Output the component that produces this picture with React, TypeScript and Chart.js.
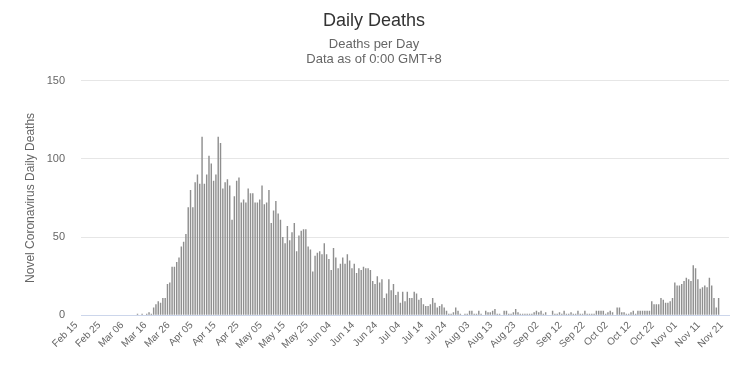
import React, { useEffect, useRef } from "react";
import { Chart, registerables } from "chart.js";

Chart.register(...registerables);

const START_DATE = "2020-02-15";
const DAY_COUNT = 281;
const LABEL_STEP = 10;
const MONTHS = ["Jan", "Feb", "Mar", "Apr", "May", "Jun", "Jul", "Aug", "Sep", "Oct", "Nov", "Dec"];

const febDeaths = [0, 0, 0, 0, 0, 0, 0, 0, 0, 0, 0, 0, 0, 0, 0];
const marDeaths = [0, 0, 0, 0, 0, 0, 0, 0, 0, 1, 0, 1, 0, 1, 2, 1, 5, 7, 9, 8, 11, 11, 20, 21, 31, 31, 34, 37, 44, 47, 52];
const aprDeaths = [69, 80, 69, 85, 90, 84, 114, 84, 90, 102, 97, 86, 90, 114, 110, 81, 85, 87, 83, 61, 76, 86, 88, 72, 74, 72, 81, 78, 78, 72];
const mayDeaths = [72, 74, 83, 71, 72, 80, 59, 67, 73, 65, 61, 50, 46, 57, 48, 53, 59, 41, 51, 54, 55, 55, 44, 42, 28, 38, 40, 41, 39, 46, 39];
const junDeaths = [36, 29, 43, 37, 30, 33, 37, 33, 39, 35, 30, 33, 27, 30, 29, 31, 30, 30, 29, 22, 20, 25, 21, 23, 11, 14, 23, 16, 20, 13];
const julDeaths = [15, 8, 15, 9, 15, 11, 11, 15, 14, 10, 11, 7, 6, 6, 7, 11, 8, 5, 6, 7, 5, 3, 1, 1, 2, 5, 3, 1, 0, 1, 1];
const augDeaths = [3, 3, 1, 1, 3, 1, 0, 3, 2, 2, 3, 4, 1, 1, 0, 3, 3, 1, 1, 2, 4, 2, 1, 1, 1, 1, 1, 1, 2, 3, 2];
const sepDeaths = [3, 1, 2, 0, 0, 3, 1, 1, 2, 1, 3, 1, 1, 2, 1, 1, 3, 1, 1, 3, 1, 1, 1, 1, 3, 3, 3, 3, 1, 2];
const octDeaths = [3, 2, 0, 5, 5, 2, 2, 1, 1, 2, 3, 1, 3, 3, 3, 3, 3, 3, 9, 7, 7, 7, 11, 10, 8, 8, 9, 11, 21, 19, 19];
const novDeaths = [20, 22, 24, 23, 22, 32, 30, 23, 17, 18, 19, 18, 24, 19, 11, 5, 11, 0, 0, 0, 0];

const dailyDeaths = [
  ...febDeaths, ...marDeaths, ...aprDeaths, ...mayDeaths, ...junDeaths,
  ...julDeaths, ...augDeaths, ...sepDeaths, ...octDeaths, ...novDeaths,
];

const yTicks = [0, 50, 100, 150];

function buildCategories(): string[] {
  const out: string[] = [];
  const start = new Date(START_DATE + "T00:00:00Z");
  for (let i = 0; i < DAY_COUNT; i++) {
    const d = new Date(start.getTime() + i * 86400000);
    const day = String(d.getUTCDate()).padStart(2, "0");
    out.push(MONTHS[d.getUTCMonth()] + " " + day);
  }
  return out;
}

const categories = buildCategories();

const FONT = "'Liberation Sans', Arial, Helvetica, sans-serif";

export default function App() {
  const ref = useRef<HTMLCanvasElement | null>(null);

  useEffect(() => {
    document.body.style.margin = "0";
    const canvas = ref.current;
    if (!canvas) return;
    const chart = new Chart(canvas, {
      type: "bar",
      data: {
        labels: categories,
        datasets: [
          {
            label: "Daily Deaths",
            data: dailyDeaths,
            backgroundColor: "#8f8f8f",
            borderWidth: 0,
            barPercentage: 0.62,
            categoryPercentage: 1,
          },
        ],
      },
      options: {
        animation: false,
        responsive: false,
        devicePixelRatio: 1,
        layout: { padding: { left: 19, right: 14, top: 0, bottom: 20 } },
        plugins: {
          legend: { display: false },
          tooltip: { enabled: false },
          title: {
            display: true,
            text: "Daily Deaths",
            color: "#333333",
            font: { family: FONT, size: 18, weight: "normal" },
            padding: { top: 10, bottom: 4 },
          },
          subtitle: {
            display: true,
            text: ["Deaths per Day", "Data as of 0:00 GMT+8"],
            color: "#666666",
            font: { family: FONT, size: 13, weight: "normal", lineHeight: 1.15 },
            padding: { top: 1, bottom: 14 },
          },
        },
        scales: {
          x: {
            type: "category",
            offset: true,
            grid: { display: false, drawTicks: false },
            border: { display: true, color: "#ccd6eb", width: 1 },
            afterFit: (scale: any) => {
              scale.paddingLeft = 0;
              scale.paddingRight = 0;
            },
            ticks: {
              autoSkip: false,
              minRotation: 45,
              maxRotation: 45,
              color: "#666666",
              font: { family: FONT, size: 10 },
              padding: 4,
              labelOffset: -6,
              callback: function (this: any, value: any, index: number) {
                return index % LABEL_STEP === 0 ? categories[index] : null;
              },
            },
          },
          y: {
            min: 0,
            max: 150,
            afterBuildTicks: (axis: any) => {
              axis.ticks = yTicks.map((v) => ({ value: v }));
            },
            afterFit: (scale: any) => {
              scale.width = 62;
            },
            grid: {
              color: (ctx: any) => (ctx.tick && ctx.tick.value === 0 ? "rgba(0,0,0,0)" : "#e6e6e6"),
              drawTicks: false,
              lineWidth: 1,
            },
            border: { display: false },
            ticks: {
              color: "#666666",
              font: { family: FONT, size: 11 },
              padding: 16,
            },
            title: {
              display: true,
              text: "Novel Coronavirus Daily Deaths",
              color: "#666666",
              font: { family: FONT, size: 12 },
              padding: { top: 4, bottom: 9 },
            },
          },
        },
      },
    });
    return () => chart.destroy();
  }, []);

  return (
    <div style={{ width: 743, height: 375 }}>
      <canvas ref={ref} width={743} height={375} style={{ display: "block" }} />
    </div>
  );
}
